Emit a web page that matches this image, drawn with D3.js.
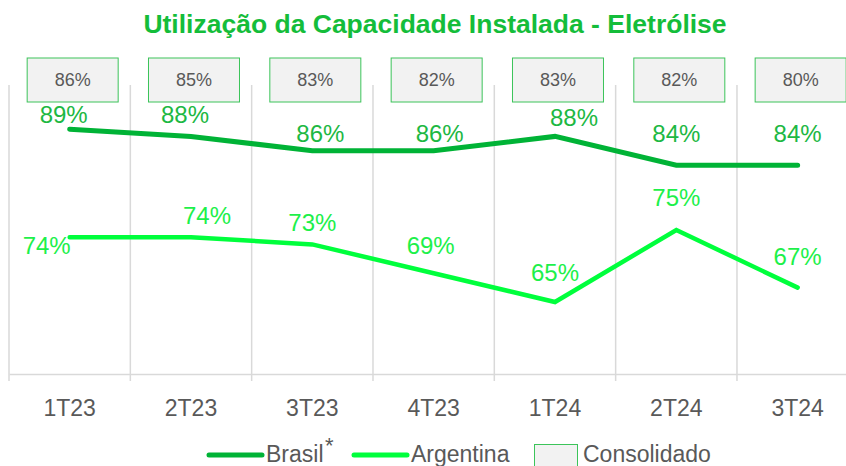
<!DOCTYPE html>
<html>
<head>
	<meta charset="utf-8">
	<script src="https://d3js.org/d3.v7.min.js"></script>
	<style>
		body { margin: 0; background: #fff; }
		text { font-family: "Liberation Sans", Arial, sans-serif; }
	</style>
</head>
<body>
	<svg width="846" height="466"></svg>
	<script>
		const quarters = ["1T23", "2T23", "3T23", "4T23", "1T24", "2T24", "3T24"];
		const brasil = [89, 88, 86, 86, 88, 84, 84];
		const argentina = [74, 74, 73, 69, 65, 75, 67];
		const consolidado = [86, 85, 83, 82, 83, 82, 80];

		// label nudges (the source has hand-placed labels)
		const brasilLabelDx = [-6, -6, 8, 6, 19, 0, 0];
		const brasilLabelDy = [-15, -22, -17, -17, -19, -32, -32];
		const argLabelDx = [-23, 16, 0, -3, 0, 0, 0];
		const argLabelDy = [8, -22, -22, -28, -29, -32, -31];

		const cBrasil = "#00b336", cArg = "#00ff3c", cLabB = "#1db843", cLabA = "#1df04a";
		const grey = "#595959";

		const svg = d3.select("svg");

		const x = d3.scaleBand().domain(quarters).range([9, 9 + 7 * 121.33]);
		const y = d3.scaleLinear().domain([55, 95]).range([374, 86]);
		const cx = d => x(d) + x.bandwidth() / 2;

		// title
		svg.append("text")
			.attr("x", 435).attr("y", 33)
			.attr("text-anchor", "middle")
			.style("font-family", "'Liberation Sans Narrow', 'Liberation Sans', sans-serif")
			.style("font-weight", "bold")
			.style("font-size", "26.5px")
			.attr("fill", "#14bd3a")
			.text("Utilização da Capacidade Instalada - Eletrólise");

		// vertical gridlines
		const edges = quarters.map(q => x(q));
		svg.append("g").selectAll("line").data(edges).join("line")
			.attr("x1", d => d).attr("x2", d => d)
			.attr("y1", 85).attr("y2", y(55) + 7)
			.attr("stroke", "#d9d9d9").attr("stroke-width", 1.5);

		// x axis
		const xAxis = svg.append("g")
			.attr("transform", `translate(0,${y(55)})`)
			.call(d3.axisBottom(x).tickSize(0).tickPadding(26));
		xAxis.select(".domain").attr("stroke", "#d9d9d9").attr("stroke-width", 1.5);
		xAxis.selectAll("text")
			.style("font-family", "'Liberation Sans', Arial, sans-serif")
			.style("font-size", "23px").attr("fill", grey);

		// consolidado boxes
		const boxes = svg.append("g").selectAll("g").data(consolidado).join("g")
			.attr("transform", (d, i) => `translate(${cx(quarters[i]) + 3},80)`);
		boxes.append("rect")
			.attr("x", -45.5).attr("y", -22).attr("width", 91).attr("height", 44)
			.attr("fill", "#f2f2f2").attr("stroke", "#3cc45a").attr("stroke-width", 1);
		boxes.append("text")
			.attr("text-anchor", "middle").attr("dy", "0.35em")
			.style("font-size", "18px").attr("fill", grey)
			.text(d => d + "%");

		const line = d3.line().x((d, i) => cx(quarters[i])).y(d => y(d));

		svg.append("path").datum(argentina)
			.attr("d", line).attr("fill", "none")
			.attr("stroke", cArg).attr("stroke-width", 4.5).attr("stroke-linecap", "round");
		svg.append("path").datum(brasil)
			.attr("d", line).attr("fill", "none")
			.attr("stroke", cBrasil).attr("stroke-width", 5).attr("stroke-linecap", "round");

		svg.append("g").selectAll("text").data(brasil).join("text")
			.attr("x", (d, i) => cx(quarters[i]) + brasilLabelDx[i])
			.attr("y", (d, i) => y(d) + brasilLabelDy[i])
			.attr("text-anchor", "middle").attr("dy", "0.35em")
			.style("font-size", "24px").attr("fill", cLabB)
			.text(d => d + "%");

		svg.append("g").selectAll("text").data(argentina).join("text")
			.attr("x", (d, i) => cx(quarters[i]) + argLabelDx[i])
			.attr("y", (d, i) => y(d) + argLabelDy[i])
			.attr("text-anchor", "middle").attr("dy", "0.35em")
			.style("font-size", "24px").attr("fill", cLabA)
			.text(d => d + "%");

		// legend
		const lg = svg.append("g").style("font-size", "23px");
		lg.append("line").attr("x1", 209).attr("x2", 262).attr("y1", 455).attr("y2", 455)
			.attr("stroke", cBrasil).attr("stroke-width", 5).attr("stroke-linecap", "round");
		lg.append("text").attr("x", 266).attr("y", 462).attr("fill", grey).text("Brasil");
		lg.append("text").attr("x", 325).attr("y", 453).attr("fill", grey)
			.style("font-size", "22px").text("*");
		lg.append("line").attr("x1", 354).attr("x2", 407).attr("y1", 455).attr("y2", 455)
			.attr("stroke", cArg).attr("stroke-width", 5).attr("stroke-linecap", "round");
		lg.append("text").attr("x", 411).attr("y", 462).attr("fill", grey).text("Argentina");
		lg.append("rect").attr("x", 534.5).attr("y", 444.5).attr("width", 43).attr("height", 30)
			.attr("fill", "#f2f2f2").attr("stroke", "#3cc45a").attr("stroke-width", 1);
		lg.append("text").attr("x", 583).attr("y", 462).attr("fill", grey).text("Consolidado");
	</script>
</body>
</html>
